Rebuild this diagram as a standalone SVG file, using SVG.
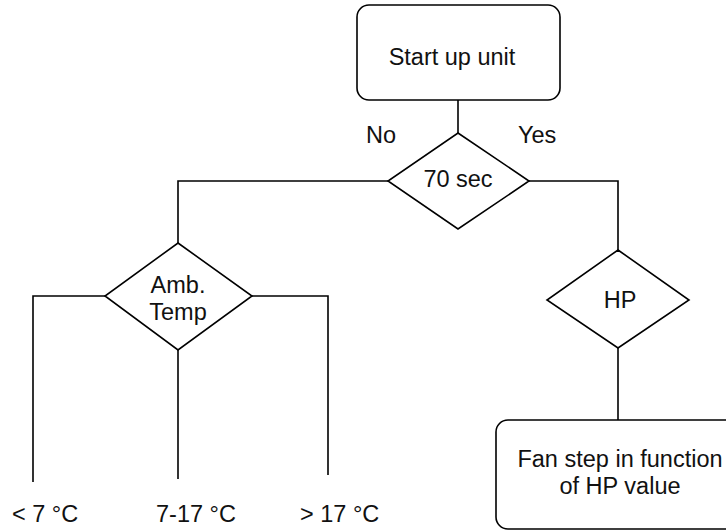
<svg xmlns="http://www.w3.org/2000/svg" width="726" height="531" viewBox="0 0 726 531">
<style>
.shape{fill:#fff;stroke:#000;stroke-width:1.6}
.line{fill:none;stroke:#000;stroke-width:1.6}
text{font-family:"Liberation Sans",Arial,sans-serif;font-size:23.5px;fill:#111}
.c{text-anchor:middle}
</style>
<rect width="726" height="531" fill="#fff"/>
<g id="connectors">
<path class="line" d="M458 100 V133"/>
<path class="line" d="M388 181 H178 V243"/>
<path class="line" d="M529 181 H618 V250"/>
<path class="line" d="M618 348 V420"/>
<path class="line" d="M105 296 H33 V482"/>
<path class="line" d="M178 350 V479"/>
<path class="line" d="M252 296 H328 V475"/>
</g>
<g id="start">
<rect class="shape" x="357" y="5" width="203" height="95" rx="12"/>
<text class="c" x="452" y="65">Start up unit</text>
</g>
<g id="time">
<polygon class="shape" points="458,133 529,181 458,229 388,181"/>
<text class="c" x="458" y="187">70 sec</text>
</g>
<g id="label-no"><text x="366" y="143">No</text></g>
<g id="label-yes"><text x="518" y="143">Yes</text></g>
<g id="amb">
<polygon class="shape" points="178,243 252,296 178,350 105,296"/>
<text class="c" x="178" y="293">Amb.</text>
<text class="c" x="178" y="320">Temp</text>
</g>
<g id="hp">
<polygon class="shape" points="618,250 689,300 618,348 547,300"/>
<text class="c" x="620" y="308">HP</text>
</g>
<g id="fan">
<rect class="shape" x="496" y="420" width="250" height="109" rx="12"/>
<text class="c" x="620" y="467">Fan step in function</text>
<text class="c" x="620" y="494">of HP value</text>
</g>
<g id="t1"><text x="12" y="522">&lt; 7 °C</text></g>
<g id="t2"><text x="156" y="522">7-17 °C</text></g>
<g id="t3"><text x="300" y="522">&gt; 17 °C</text></g>
</svg>
